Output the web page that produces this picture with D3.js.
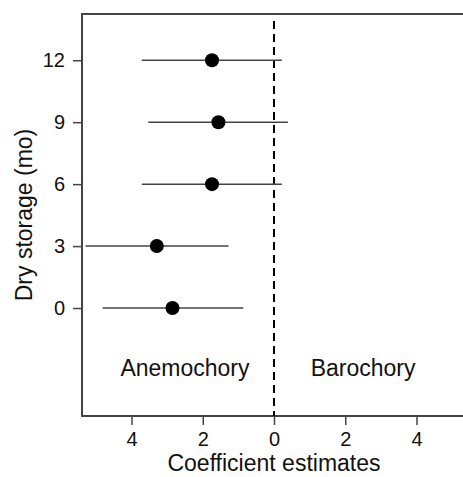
<!DOCTYPE html>
<html>
<head>
<meta charset="utf-8">
<script src="https://cdn.jsdelivr.net/npm/d3@7"></script>
<style>
  body { margin: 0; background: #fff; }
  svg { display: block; font-family: "Liberation Sans", Arial, sans-serif; }
</style>
</head>
<body>
<div id="chart"></div>
<script>
// Data
var storage = [0, 3, 6, 9, 12];
var estimate = [-2.85, -3.29, -1.74, -1.56, -1.74];
var lower = [-4.81, -5.29, -3.71, -3.53, -3.71];
var upper = [-0.86, -1.28, 0.22, 0.39, 0.22];
var xTicks = [-4, -2, 0, 2, 4];
var yTicks = [0, 3, 6, 9, 12];
var regionLabels = ["Anemochory", "Barochory"];
var regionX = [-2.5, 2.5];

var svgWidth = 463, svgHeight = 477;
var margin = { top: 14, right: -3, bottom: 61, left: 82 };
var width = svgWidth - margin.left - margin.right;
var height = svgHeight - margin.top - margin.bottom;

var svg = d3.select("#chart").append("svg")
    .attr("width", svgWidth)
    .attr("height", svgHeight);

var chartGroup = svg.append("g")
    .attr("transform", `translate(${margin.left}, ${margin.top})`);

// Scales
var xScale = d3.scaleLinear().domain([-5.39, 5.39]).range([0, width]);
var yScale = d3.scaleLinear().domain([-5.23, 14.24]).range([height, 0]);

// Axes
var xAxis = d3.axisBottom(xScale)
    .tickValues(xTicks)
    .tickFormat(d => Math.abs(d))
    .tickSize(9)
    .tickPadding(7);
var yAxis = d3.axisLeft(yScale)
    .tickValues(yTicks)
    .tickSize(9)
    .tickPadding(8);

var gx = chartGroup.append("g")
    .attr("transform", `translate(0, ${height})`)
    .call(xAxis);
var gy = chartGroup.append("g").call(yAxis);

[gx, gy].forEach(function(g) {
    g.attr("font-size", null).attr("font-family", null);
    g.select(".domain").remove();
    g.selectAll(".tick line").attr("stroke", "#444").attr("stroke-width", 1.5);
    g.selectAll(".tick text")
        .attr("fill", "#111")
        .style("font-size", "20px");
});

// Box
chartGroup.append("rect")
    .attr("x", 0)
    .attr("y", 0)
    .attr("width", width)
    .attr("height", height)
    .attr("fill", "none")
    .attr("stroke", "#444")
    .attr("stroke-width", 2);

// Zero reference line
chartGroup.append("line")
    .attr("x1", xScale(0))
    .attr("x2", xScale(0))
    .attr("y1", 7)
    .attr("y2", height)
    .attr("stroke", "#000")
    .attr("stroke-width", 2)
    .attr("stroke-dasharray", "8,5");

// Error bars
chartGroup.selectAll(".ci")
    .data(storage)
    .enter()
    .append("line")
    .attr("class", "ci")
    .attr("x1", (d, i) => xScale(lower[i]))
    .attr("x2", (d, i) => xScale(upper[i]))
    .attr("y1", d => yScale(d))
    .attr("y2", d => yScale(d))
    .attr("stroke", "#444")
    .attr("stroke-width", 1.5);

// Points
chartGroup.selectAll(".pt")
    .data(storage)
    .enter()
    .append("circle")
    .attr("class", "pt")
    .attr("cx", (d, i) => xScale(estimate[i]))
    .attr("cy", d => yScale(d))
    .attr("r", 7)
    .attr("fill", "#000");

// Region labels
chartGroup.selectAll(".region")
    .data(regionLabels)
    .enter()
    .append("text")
    .attr("class", "region")
    .attr("x", (d, i) => xScale(regionX[i]))
    .attr("y", yScale(-2.9))
    .attr("dy", "0.35em")
    .attr("text-anchor", "middle")
    .style("font-size", "23px")
    .attr("fill", "#111")
    .text(d => d);

// Axis titles
svg.append("text")
    .attr("x", margin.left + xScale(0))
    .attr("y", 471)
    .attr("text-anchor", "middle")
    .style("font-size", "23px")
    .attr("fill", "#111")
    .text("Coefficient estimates");

svg.append("text")
    .attr("transform", `translate(24, ${margin.top + height / 2}) rotate(-90)`)
    .attr("dy", "0.35em")
    .attr("text-anchor", "middle")
    .style("font-size", "23px")
    .attr("fill", "#111")
    .text("Dry storage (mo)");
</script>
</body>
</html>
